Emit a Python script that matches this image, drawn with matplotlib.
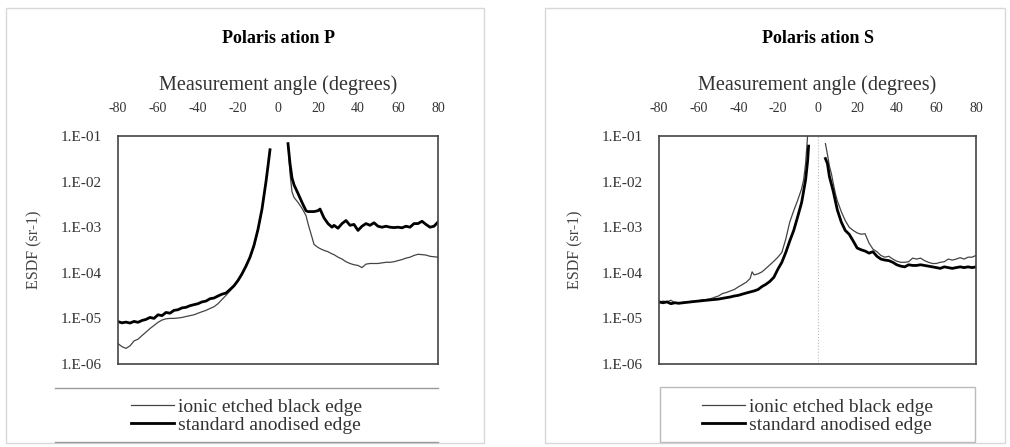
import numpy as np
import matplotlib
matplotlib.use('Agg')
import matplotlib.pyplot as plt
from matplotlib.patches import Rectangle
from matplotlib.lines import Line2D

plt.rcParams['font.family'] = ['Liberation Serif', 'DejaVu Serif']
plt.rcParams['axes.unicode_minus'] = False

# ---- data ----
ytick_vals = [1e-6, 1e-5, 1e-4, 1e-3, 1e-2, 1e-1]
ytick_labels = ['1.E-06', '1.E-05', '1.E-04', '1.E-03', '1.E-02', '1.E-01']
xtick_vals = [-80, -60, -40, -20, 0, 20, 40, 60, 80]
legend_labels = ['ionic etched black edge', 'standard anodised edge']

# Polarisation P, negative angles (both series share angles)
p_neg_x = [-80, -78, -76, -74, -72, -70, -68, -66, -64, -62, -60, -58, -56, -54,
           -52, -50, -48, -46, -44, -42, -40, -38, -36, -34, -32, -30, -28, -26,
           -24, -22, -20, -18, -16, -14, -12, -10, -8, -6, -5, -4]
p_neg_ionic = [2.8e-6, 2.4e-6, 2.2e-6, 2.5e-6, 3.2e-6, 3.5e-6, 4.2e-6, 5.0e-6,
               6.0e-6, 7.0e-6, 8.2e-6, 9.2e-6, 9.8e-6, 1.0e-5, 1.0e-5, 1.02e-5,
               1.05e-5, 1.1e-5, 1.15e-5, 1.2e-5, 1.3e-5, 1.4e-5, 1.5e-5, 1.65e-5,
               1.8e-5, 2.1e-5, 2.6e-5, 3.2e-5, 4.0e-5, 5.0e-5, 6.5e-5, 9.0e-5,
               1.5e-4, 2.1e-4, 3.8e-4, 8.5e-4, 2.4e-3, 1.0e-2, 2.2e-2, 5.0e-2]
p_neg_std = [8.5e-6, 8.0e-6, 8.3e-6, 7.9e-6, 8.6e-6, 8.2e-6, 9.0e-6, 9.5e-6,
             1.05e-5, 1.0e-5, 1.2e-5, 1.15e-5, 1.35e-5, 1.3e-5, 1.5e-5, 1.55e-5,
             1.7e-5, 1.75e-5, 1.9e-5, 2.0e-5, 2.1e-5, 2.3e-5, 2.4e-5, 2.7e-5,
             2.8e-5, 3.1e-5, 3.4e-5, 3.6e-5, 4.3e-5, 5.2e-5, 6.8e-5, 9.5e-5,
             1.4e-4, 2.2e-4, 4.0e-4, 9.0e-4, 2.5e-3, 1.0e-2, 2.2e-2, 5.0e-2]

# Polarisation P, positive angles
p_pos_x = [5, 6, 7, 8, 10, 12, 14, 15, 16, 17, 18, 20, 21, 23, 25, 27, 28, 30,
           32, 34, 36, 38, 40, 42, 44, 46, 48, 50, 52, 54, 56, 58, 60, 62, 64,
           66, 68, 70, 72, 74, 76, 78, 80]
p_pos_ionic = [6.8e-2, 1.5e-2, 6.0e-3, 4.5e-3, 3.5e-3, 2.6e-3, 1.8e-3, 1.2e-3,
               8.5e-4, 6.0e-4, 4.2e-4, 3.6e-4, 3.4e-4, 3.1e-4, 2.9e-4, 2.6e-4,
               2.5e-4, 2.2e-4, 2.0e-4, 1.75e-4, 1.6e-4, 1.5e-4, 1.45e-4, 1.3e-4,
               1.55e-4, 1.6e-4, 1.6e-4, 1.6e-4, 1.65e-4, 1.7e-4, 1.7e-4, 1.75e-4,
               1.85e-4, 1.95e-4, 2.1e-4, 2.2e-4, 2.4e-4, 2.55e-4, 2.5e-4, 2.45e-4,
               2.3e-4, 2.25e-4, 2.2e-4]
p_pos_std = [6.8e-2, 2.5e-2, 1.2e-2, 8.5e-3, 5.5e-3, 3.5e-3, 2.3e-3, 2.2e-3,
             2.2e-3, 2.2e-3, 2.2e-3, 2.3e-3, 2.5e-3, 1.6e-3, 1.2e-3, 1.0e-3,
             1.1e-3, 0.95e-3, 1.2e-3, 1.4e-3, 1.1e-3, 1.15e-3, 8.5e-4, 1.05e-3,
             1.2e-3, 1.1e-3, 1.25e-3, 1.05e-3, 1.0e-3, 1.05e-3, 1.0e-3, 0.98e-3,
             1.0e-3, 0.97e-3, 1.05e-3, 1.0e-3, 1.2e-3, 1.2e-3, 1.35e-3, 1.15e-3,
             1.0e-3, 1.05e-3, 1.3e-3]

# Polarisation S, negative angles
s_neg_ionic_x = [-80, -78, -76, -74, -72, -70, -68, -66, -64, -62, -60, -58, -56,
                 -54, -52, -50, -48, -46, -44, -42, -40, -38, -36, -34, -33, -32,
                 -30, -28, -26, -24, -22, -20, -18, -16, -15, -14, -12, -10, -8,
                 -7, -6, -5]
s_neg_ionic = [2.2e-5, 2.4e-5, 2.3e-5, 2.5e-5, 2.2e-5, 2.1e-5, 2.25e-5, 2.3e-5,
               2.35e-5, 2.4e-5, 2.45e-5, 2.55e-5, 2.6e-5, 2.7e-5, 2.9e-5, 3.1e-5,
               3.5e-5, 3.7e-5, 4.0e-5, 4.3e-5, 4.9e-5, 5.5e-5, 6.2e-5, 7.5e-5,
               1.05e-4, 9.0e-5, 9.5e-5, 1.05e-4, 1.25e-4, 1.5e-4, 1.8e-4, 2.2e-4,
               2.8e-4, 5.5e-4, 8.5e-4, 1.3e-3, 2.3e-3, 3.9e-3, 7.0e-3, 1.1e-2,
               2.5e-2, 1.0e-1]
s_neg_std_x = [-80, -78, -76, -74, -72, -70, -68, -66, -64, -62, -60, -58, -56,
               -54, -52, -50, -48, -46, -44, -42, -40, -38, -36, -34, -32, -30,
               -28, -26, -24, -22, -20, -18, -16, -14, -12, -10, -8, -6, -5, -4.5]
s_neg_std = [2.3e-5, 2.2e-5, 2.3e-5, 2.1e-5, 2.2e-5, 2.15e-5, 2.2e-5, 2.25e-5,
             2.3e-5, 2.35e-5, 2.4e-5, 2.45e-5, 2.5e-5, 2.55e-5, 2.6e-5, 2.65e-5,
             2.75e-5, 2.85e-5, 2.95e-5, 3.1e-5, 3.2e-5, 3.4e-5, 3.6e-5, 3.8e-5,
             4.0e-5, 4.3e-5, 5.0e-5, 5.6e-5, 6.5e-5, 8.0e-5, 1.2e-4, 1.7e-4,
             2.8e-4, 5.0e-4, 8.5e-4, 1.7e-3, 3.5e-3, 1.1e-2, 2.8e-2, 6.0e-2]

# Polarisation S, positive angles
s_pos_ionic_x = [4, 5, 6, 7, 8, 9, 10, 12, 14, 16, 18, 20, 22, 24, 26, 28, 30,
                 32, 34, 36, 38, 40, 42, 44, 46, 48, 50, 52, 54, 56, 58, 60, 62,
                 64, 66, 68, 70, 72, 74, 76, 78, 80]
s_pos_ionic = [6.8e-2, 4.0e-2, 2.2e-2, 1.5e-2, 9.0e-3, 5.5e-3, 3.8e-3, 2.2e-3,
               1.4e-3, 1.0e-3, 8.5e-4, 7.5e-4, 7.0e-4, 7.2e-4, 4.5e-4, 3.3e-4,
               2.9e-4, 2.4e-4, 2.2e-4, 2.3e-4, 2.0e-4, 1.8e-4, 1.7e-4, 1.7e-4,
               1.75e-4, 2.1e-4, 2.0e-4, 2.1e-4, 1.85e-4, 1.7e-4, 1.6e-4, 1.6e-4,
               1.7e-4, 1.75e-4, 2.0e-4, 1.9e-4, 2.0e-4, 2.15e-4, 2.0e-4, 2.2e-4,
               2.2e-4, 2.4e-4]
s_pos_std_x = [4, 5, 6, 8, 10, 12, 14, 16, 18, 20, 22, 24, 26, 28, 30, 32, 34,
               36, 38, 40, 42, 44, 46, 48, 50, 52, 54, 56, 58, 60, 62, 64, 66,
               68, 70, 72, 74, 76, 78, 80]
s_pos_std = [3.2e-2, 2.5e-2, 1.3e-2, 6.0e-3, 2.4e-3, 1.3e-3, 8.5e-4, 7.0e-4,
             5.0e-4, 3.5e-4, 3.2e-4, 3.0e-4, 2.7e-4, 2.9e-4, 2.3e-4, 2.0e-4,
             1.9e-4, 1.85e-4, 1.7e-4, 1.5e-4, 1.4e-4, 1.35e-4, 1.5e-4, 1.45e-4,
             1.45e-4, 1.5e-4, 1.45e-4, 1.4e-4, 1.35e-4, 1.3e-4, 1.25e-4, 1.35e-4,
             1.3e-4, 1.25e-4, 1.3e-4, 1.35e-4, 1.3e-4, 1.35e-4, 1.3e-4, 1.35e-4]

thin_kw = dict(color='#444444', lw=0.9)
thick_kw = dict(color='black', lw=2.0)

fig = plt.figure(figsize=(10.10, 4.47), dpi=100)

W, H = 1010.0, 447.0


def fx(px):
    return px / W


def fy(py):
    return 1 - py / H


def setup_axes(ax, title):
    ax.set_yscale('log')
    ax.set_xlim(-80, 80)
    ax.set_ylim(1e-6, 1e-1)
    ax.set_yticks(ytick_vals)
    ax.set_yticklabels(ytick_labels)
    ax.minorticks_off()
    ax.set_xticks(xtick_vals)
    ax.xaxis.tick_top()
    ax.xaxis.set_label_position('top')
    ax.tick_params(axis='both', length=0, colors='#333333')
    ax.tick_params(axis='x', labelsize=10, pad=15)
    ax.tick_params(axis='y', labelsize=11, pad=12)
    ax.set_xlabel('Measurement angle (degrees)', fontsize=14.5, color='#333333',
                  labelpad=9)
    ax.set_ylabel('ESDF (sr-1)', fontsize=11.5, color='#444444', labelpad=13)
    for s in ax.spines.values():
        s.set_linewidth(1.2)
        s.set_color('#444444')
    ax.set_title(title, fontsize=13, fontweight='bold', pad=67)


# left panel: polarisation P
ax1 = fig.add_axes([fx(118), fy(364), fx(320), 228 / H])
setup_axes(ax1, 'Polaris ation P')
ax1.plot(p_neg_x, p_neg_ionic, **thin_kw)
ax1.plot(p_neg_x, p_neg_std, **thick_kw)
ax1.plot(p_pos_x, p_pos_ionic, **thin_kw)
ax1.plot(p_pos_x, p_pos_std, **thick_kw)

# right panel: polarisation S
ax2 = fig.add_axes([fx(659), fy(364), fx(317), 228 / H])
setup_axes(ax2, 'Polaris ation S')
ax2.axvline(0, color='#bbbbbb', lw=0.8, ls=':')
ax2.plot(s_neg_ionic_x, s_neg_ionic, **thin_kw)
ax2.plot(s_neg_std_x, s_neg_std, **thick_kw)
ax2.plot(s_pos_ionic_x, s_pos_ionic, **thin_kw)
ax2.plot(s_pos_std_x, s_pos_std, **thick_kw)

# panel frames (faint, like the scan)
fig.add_artist(Rectangle((fx(6), fy(443)), fx(478), 435 / H, transform=fig.transFigure,
                         fill=False, ec='#d8d8d8', lw=1.0))
fig.add_artist(Rectangle((fx(545), fy(443)), fx(460), 435 / H, transform=fig.transFigure,
                         fill=False, ec='#d8d8d8', lw=1.0))

# legend box: left one only has top/bottom rules, right one a full box
for yy in (388, 442):
    fig.add_artist(Line2D([fx(55), fx(438)], [fy(yy), fy(yy)], transform=fig.transFigure,
                          color='#999999', lw=1.0))
fig.add_artist(Rectangle((fx(660), fy(442)), fx(315), 55 / H,
                         transform=fig.transFigure, fill=False,
                         ec='#bbbbbb', lw=1.0))

handles = [Line2D([], [], **thin_kw), Line2D([], [], **thick_kw)]
for x0, x1 in [(55, 438), (660, 975)]:
    fig.legend(handles, legend_labels, loc='center',
               bbox_to_anchor=(fx((x0 + x1) / 2), fy(416)), frameon=False,
               fontsize=14, handlelength=2.2, handletextpad=0.2,
               labelspacing=0.0, labelcolor='#333333')

fig.savefig('out.png', dpi=100)
